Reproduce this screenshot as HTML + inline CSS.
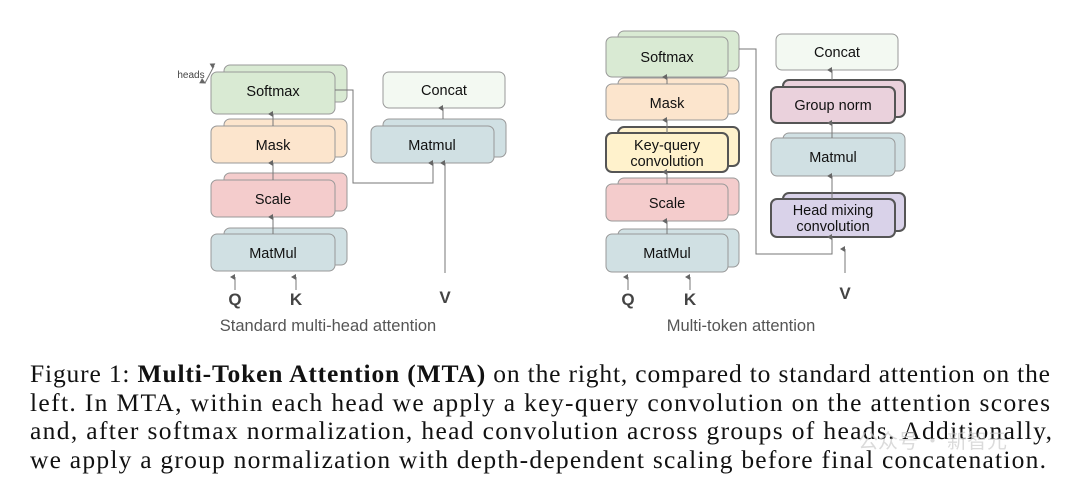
<!DOCTYPE html>
<html><head><meta charset="utf-8"><style>
html,body{margin:0;padding:0;background:#fff;}
svg{display:block;}
.l{font-family:"Liberation Sans",sans-serif;font-size:14.5px;fill:#111;text-anchor:middle;}
.c{font-family:"Liberation Serif",serif;font-size:25.5px;fill:#111;}
</style></head><body>
<svg width="1080" height="494" viewBox="0 0 1080 494" xmlns="http://www.w3.org/2000/svg">
<defs><marker id="a" markerWidth="6" markerHeight="6" refX="3" refY="5" orient="auto-start-reverse" markerUnits="userSpaceOnUse"><path d="M0,5 L3,0 L6,5 Z" fill="#666"/></marker>
<marker id="b" markerWidth="6" markerHeight="6" refX="3" refY="1" orient="auto-start-reverse" markerUnits="userSpaceOnUse"><path d="M0,6 L3,0 L6,6 Z" fill="#666"/></marker></defs>
<g stroke="#999" stroke-width="1">
<rect x="224" y="65" width="123" height="37" rx="6" fill="#d9ead3"/>
<rect x="211" y="72" width="124" height="42" rx="6" fill="#d9ead3"/>
<rect x="224" y="119" width="123" height="38" rx="6" fill="#fce5cd"/>
<rect x="211" y="126" width="124" height="37" rx="6" fill="#fce5cd"/>
<rect x="224" y="173" width="123" height="38" rx="6" fill="#f4cccc"/>
<rect x="211" y="180" width="124" height="37" rx="6" fill="#f4cccc"/>
<rect x="224" y="228" width="123" height="37" rx="6" fill="#d0e0e3"/>
<rect x="211" y="234" width="124" height="37" rx="6" fill="#d0e0e3"/>
<rect x="383" y="72" width="122" height="36" rx="6" fill="#f3f9f2"/>
<rect x="383" y="119" width="123" height="38" rx="6" fill="#d0e0e3"/>
<rect x="371" y="126" width="123" height="37" rx="6" fill="#d0e0e3"/>
<rect x="618" y="31" width="121" height="40" rx="6" fill="#d9ead3"/>
<rect x="606" y="37" width="122" height="40" rx="6" fill="#d9ead3"/>
<rect x="618" y="78" width="121" height="36" rx="6" fill="#fce5cd"/>
<rect x="606" y="84" width="122" height="36" rx="6" fill="#fce5cd"/>
<rect x="618" y="127" width="121" height="39" rx="6" fill="#fff2cc" stroke="#555" stroke-width="2"/>
<rect x="606" y="133" width="122" height="39" rx="6" fill="#fff2cc" stroke="#555" stroke-width="2"/>
<rect x="618" y="178" width="121" height="37" rx="6" fill="#f4cccc"/>
<rect x="606" y="184" width="122" height="37" rx="6" fill="#f4cccc"/>
<rect x="618" y="229" width="121" height="38" rx="6" fill="#d0e0e3"/>
<rect x="606" y="234" width="122" height="38" rx="6" fill="#d0e0e3"/>
<rect x="776" y="34" width="122" height="36" rx="6" fill="#f3f9f2"/>
<rect x="783" y="80" width="122" height="37" rx="6" fill="#ead1dc" stroke="#555" stroke-width="2"/>
<rect x="771" y="87" width="124" height="36" rx="6" fill="#ead1dc" stroke="#555" stroke-width="2"/>
<rect x="783" y="133" width="122" height="38" rx="6" fill="#d0e0e3"/>
<rect x="771" y="138" width="124" height="38" rx="6" fill="#d0e0e3"/>
<rect x="783" y="193" width="122" height="38" rx="6" fill="#d9d2e9" stroke="#555" stroke-width="2"/>
<rect x="771" y="199" width="124" height="38" rx="6" fill="#d9d2e9" stroke="#555" stroke-width="2"/>
</g>
<g stroke="#777" stroke-width="1" fill="none">
<line x1="273" y1="126" x2="273" y2="114" marker-end="url(#a)"/>
<line x1="273" y1="180" x2="273" y2="163" marker-end="url(#a)"/>
<line x1="273" y1="234" x2="273" y2="217" marker-end="url(#a)"/>
<line x1="443" y1="119" x2="443" y2="108" marker-end="url(#a)"/>
<polyline points="335,90 353,90 353,183 433,183 433,163" marker-end="url(#a)"/>
<line x1="445" y1="273" x2="445" y2="163" marker-end="url(#a)"/>
<line x1="235" y1="290" x2="235" y2="277" marker-end="url(#a)"/>
<line x1="296" y1="290" x2="296" y2="277" marker-end="url(#a)"/>
<line x1="205" y1="83" x2="214" y2="66" marker-start="url(#b)" marker-end="url(#a)"/>
<line x1="667" y1="84" x2="667" y2="77" marker-end="url(#a)"/>
<line x1="667" y1="133" x2="667" y2="120" marker-end="url(#a)"/>
<line x1="667" y1="184" x2="667" y2="172" marker-end="url(#a)"/>
<line x1="667" y1="234" x2="667" y2="221" marker-end="url(#a)"/>
<line x1="832" y1="80" x2="832" y2="70" marker-end="url(#a)"/>
<line x1="832" y1="138" x2="832" y2="123" marker-end="url(#a)"/>
<line x1="832" y1="199" x2="832" y2="176" marker-end="url(#a)"/>
<polyline points="739,49 756,49 756,254 832,254 832,237" marker-end="url(#a)"/>
<line x1="845" y1="273" x2="845" y2="249" marker-end="url(#a)"/>
<line x1="628" y1="290" x2="628" y2="277" marker-end="url(#a)"/>
<line x1="690" y1="290" x2="690" y2="277" marker-end="url(#a)"/>
</g>
<g class="l">
<text x="273" y="96">Softmax</text>
<text x="273" y="150">Mask</text>
<text x="273" y="204">Scale</text>
<text x="273" y="258">MatMul</text>
<text x="444" y="95">Concat</text>
<text x="432" y="150">Matmul</text>
<text x="667" y="62">Softmax</text>
<text x="667" y="108">Mask</text>
<text x="667" y="150">Key-query</text>
<text x="667" y="166">convolution</text>
<text x="667" y="208">Scale</text>
<text x="667" y="258">MatMul</text>
<text x="837" y="57">Concat</text>
<text x="833" y="110">Group norm</text>
<text x="833" y="162">Matmul</text>
<text x="833" y="215">Head mixing</text>
<text x="833" y="231">convolution</text>
<text x="191" y="78" style="font-size:10px;fill:#444">heads</text>
<g style="font-weight:bold;font-size:17px;fill:#444">
<text x="235" y="305">Q</text><text x="296" y="305">K</text><text x="445" y="303">V</text>
<text x="628" y="305">Q</text><text x="690" y="305">K</text><text x="845" y="299">V</text>
</g>
<text x="328" y="331" style="font-size:16.5px;fill:#555">Standard multi-head attention</text>
<text x="741" y="331" style="font-size:16.5px;fill:#555">Multi-token attention</text>
</g>
<g class="c">
<text x="30" y="382" textLength="1020" lengthAdjust="spacing">Figure 1: <tspan font-weight="bold">Multi-Token Attention (MTA)</tspan> on the right, compared to standard attention on the</text>
<text x="30" y="411" textLength="1020" lengthAdjust="spacing">left. In MTA, within each head we apply a key-query convolution on the attention scores</text>
<text x="30" y="439" textLength="1022" lengthAdjust="spacing">and, after softmax normalization, head convolution across groups of heads. Additionally,</text>
<text x="30" y="468" textLength="1016" lengthAdjust="spacing">we apply a group normalization with depth-dependent scaling before final concatenation.</text>
</g>
<text x="858" y="448" style="font-family:'Noto Sans CJK SC',sans-serif;font-size:20px;fill:#ccc;opacity:0.7">公众号 · 新智元</text>
</svg>
</body></html>
